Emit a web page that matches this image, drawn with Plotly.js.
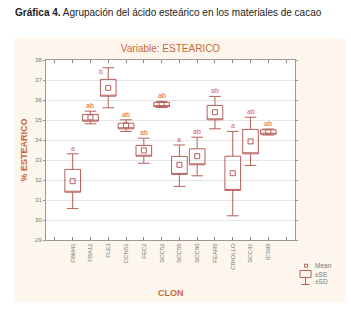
<!DOCTYPE html>
<html>
<head>
<meta charset="utf-8">
<script src="https://cdn.plot.ly/plotly-3.0.1.min.js"></script>
<style>html,body{margin:0;padding:0;background:#fff;}#chart{width:351px;height:312px;}</style>
</head>
<body>
<div id="chart"></div>
<script>
// Clones (categories)
const clones = ['FBM41','FBA12','FLE3','CCN51','FEC2','SCC52','SCC55','SCC80','FEAR5','CRIOLLO','SCC41','ICS95'];
// Means
const means  = [31.94, 35.13, 36.61, 34.73, 33.48, 35.78, 32.76, 33.19, 35.39, 32.34, 33.93, 34.40];
// Mean - SE / Mean + SE
const seLow  = [31.39, 34.94, 36.19, 34.56, 33.19, 35.67, 32.28, 32.76, 35.01, 31.48, 33.31, 34.29];
const seHigh = [32.53, 35.28, 37.03, 34.84, 33.73, 35.88, 33.18, 33.56, 35.73, 33.19, 34.53, 34.51];
// Mean - SD / Mean + SD
const sdLow  = [30.57, 34.81, 35.61, 34.43, 32.84, 35.63, 31.68, 32.21, 34.56, 30.21, 32.73, 34.25];
const sdHigh = [33.31, 35.44, 37.61, 35.01, 34.09, 35.93, 33.75, 34.14, 36.18, 34.43, 35.14, 34.55];
// Grouping letters
const groups = ['a','ab','b','ab','ab','ab','a','ab','ab','a','ab','ab'];

const xs = clones.map((c, i) => i);
const boxColor = '#b5605a';
const accent = '#c8693c';
const letterColor = '#d8603a';
const grey = '#777777';

const traces = [
  {
    type: 'box',
    x: xs,
    q1: seLow,
    median: seLow,
    q3: seHigh,
    lowerfence: sdLow,
    upperfence: sdHigh,
    width: 0.88,
    whiskerwidth: 0.75,
    line: {color: boxColor, width: 1},
    fillcolor: 'rgba(0,0,0,0)',
    boxpoints: false,
    showlegend: false,
    hoverinfo: 'skip'
  },
  {
    type: 'scatter',
    mode: 'markers',
    x: xs,
    y: means,
    marker: {symbol: 'square-open', size: 5, color: boxColor, line: {width: 1, color: boxColor}},
    showlegend: false,
    hoverinfo: 'skip'
  }
];

const tickvals = [-1].concat(xs, [clones.length]);
const ticktext = [''].concat(clones, ['']);

// helpers to convert pixel to paper coords (plot area: x 46..295, y 60..240)
const PX0 = 46, PW = 249, PY1 = 240, PH = 180;
const px = v => (v - PX0) / PW;
const py = v => (PY1 - v) / PH;

const annotations = [
  {
    text: '<b>Gráfica 4.</b> Agrupación del ácido esteárico en los materiales de cacao',
    xref: 'paper', yref: 'paper', x: px(13), y: py(12.5), xanchor: 'left', yanchor: 'middle',
    showarrow: false, font: {family: '"Liberation Sans", Arial, sans-serif', size: 10, color: '#222'}
  },
  {
    text: '<b>% ESTEARICO</b>', textangle: -90,
    xref: 'paper', yref: 'paper', x: px(23), y: py(150.5), xanchor: 'center', yanchor: 'middle',
    showarrow: false, font: {family: '"Liberation Sans", Arial, sans-serif', size: 9, color: accent}
  },
  {
    text: '<b>CLON</b>',
    xref: 'paper', yref: 'paper', x: 0.5, y: py(292.7), xanchor: 'center', yanchor: 'middle',
    showarrow: false, font: {family: '"Liberation Sans", Arial, sans-serif', size: 9, color: accent}
  },
  // legend texts
  {text: 'Mean', xref: 'paper', yref: 'paper', x: px(313), y: py(265.7), xanchor: 'left', yanchor: 'middle', showarrow: false, font: {family: '"Liberation Sans", Arial, sans-serif', size: 6.5, color: grey}},
  {text: '±SE', xref: 'paper', yref: 'paper', x: px(313), y: py(274), xanchor: 'left', yanchor: 'middle', showarrow: false, font: {family: '"Liberation Sans", Arial, sans-serif', size: 6.5, color: grey}},
  {text: '±SD', xref: 'paper', yref: 'paper', x: px(313), y: py(281.7), xanchor: 'left', yanchor: 'middle', showarrow: false, font: {family: '"Liberation Sans", Arial, sans-serif', size: 6.5, color: grey}}
];

groups.forEach((g, i) => {
  const special = (g === 'b');
  annotations.push({
    text: g, x: xs[i], y: sdHigh[i], xref: 'x', yref: 'y',
    xanchor: 'center', yanchor: 'middle', showarrow: false,
    xshift: special ? -7 : 0, yshift: special ? -4 : 5.5,
    font: {family: '"Liberation Sans", Arial, sans-serif', size: 7, color: letterColor}
  });
});

const shapes = [
  // cream panel
  {type: 'rect', xref: 'paper', yref: 'paper', x0: px(14), x1: px(346), y0: py(302), y1: py(37.7), fillcolor: '#fcf6ec', line: {width: 0}, layer: 'below'},
  // white plot area
  {type: 'rect', xref: 'paper', yref: 'paper', x0: 0, x1: 1, y0: 0, y1: 1, fillcolor: '#ffffff', line: {width: 0}, layer: 'below'},
  // legend: mean square
  {type: 'rect', xref: 'paper', yref: 'paper', x0: px(304.5), x1: px(307.5), y0: py(267.2), y1: py(264.2), fillcolor: 'rgba(0,0,0,0)', line: {color: boxColor, width: 1}},
  // legend: SE box
  {type: 'rect', xref: 'paper', yref: 'paper', x0: px(300), x1: px(311), y0: py(277.5), y1: py(270.5), fillcolor: 'rgba(0,0,0,0)', line: {color: boxColor, width: 1}},
  // legend: SD whisker
  {type: 'line', xref: 'paper', yref: 'paper', x0: px(305.5), x1: px(305.5), y0: py(277.5), y1: py(284.5), line: {color: boxColor, width: 1}},
  {type: 'line', xref: 'paper', yref: 'paper', x0: px(301.5), x1: px(309.5), y0: py(284.5), y1: py(284.5), line: {color: boxColor, width: 1}}
];

const layout = {
  width: 351, height: 312,
  margin: {l: 46, r: 56, t: 60, b: 72},
  paper_bgcolor: '#ffffff',
  plot_bgcolor: 'rgba(0,0,0,0)',
  title: {
    text: 'Variable: ESTEARICO',
    font: {family: '"Liberation Sans", Arial, sans-serif', size: 10, color: accent},
    x: 0.5, xref: 'paper', xanchor: 'center',
    y: 1 - 48 / 312, yref: 'container', yanchor: 'middle'
  },
  xaxis: {
    range: [-1.5, clones.length + 0.5],
    tickmode: 'array', tickvals: tickvals, ticktext: ticktext,
    tickangle: -90,
    tickfont: {family: '"Liberation Sans", Arial, sans-serif', size: 6, color: grey},
    ticks: 'inside', ticklen: 3, tickcolor: '#888',
    showline: true, linecolor: '#999', linewidth: 1, mirror: 'ticks',
    showgrid: false, zeroline: false, fixedrange: true
  },
  yaxis: {
    range: [29, 38], dtick: 1, tick0: 29,
    tickfont: {family: '"Liberation Sans", Arial, sans-serif', size: 6, color: grey},
    ticks: 'outside', ticklen: 2, tickcolor: '#999',
    showline: true, linecolor: '#999', linewidth: 1, mirror: 'ticks',
    showgrid: true, gridcolor: '#e6e6e6', gridwidth: 1, zeroline: false, fixedrange: true
  },
  shapes: shapes,
  annotations: annotations,
  showlegend: false
};

Plotly.newPlot('chart', traces, layout, {staticPlot: true, displayModeBar: false});
</script>
</body>
</html>
